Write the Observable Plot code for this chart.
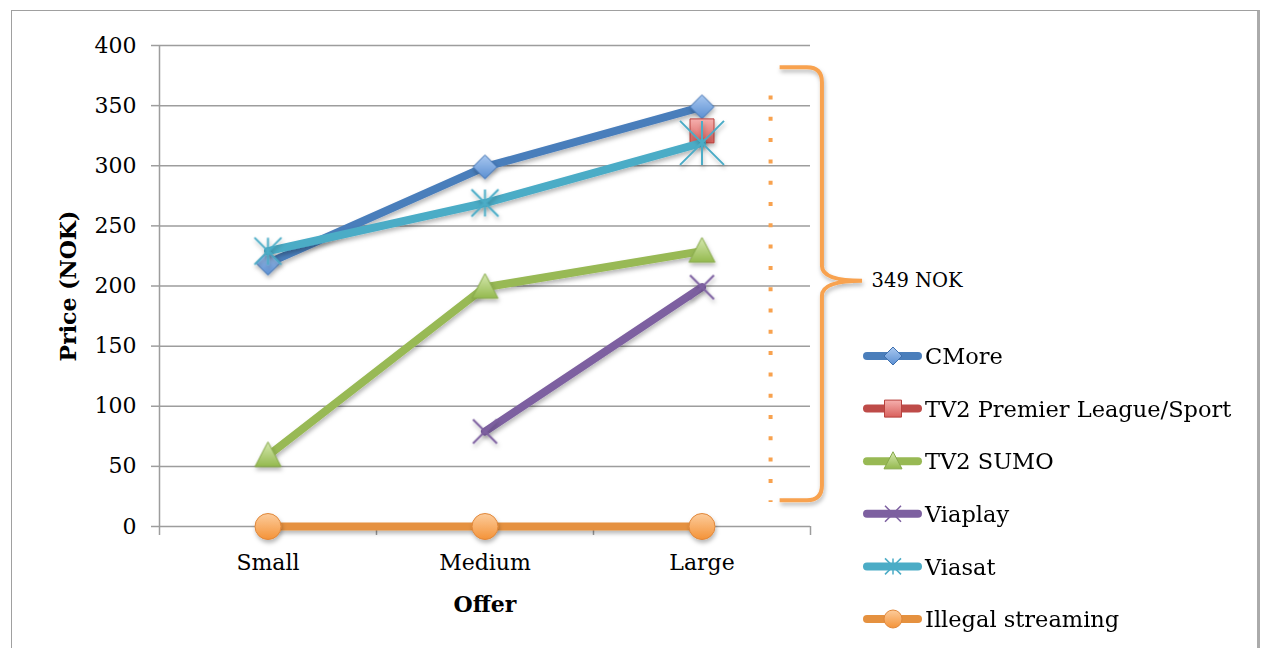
<!DOCTYPE html>
<html>
<head>
<meta charset="utf-8">
<script src="https://cdn.jsdelivr.net/npm/d3@7"></script>
<script src="https://cdn.jsdelivr.net/npm/@observablehq/plot@0.6"></script>
<style>
  html, body { margin: 0; padding: 0; background: #fff; overflow: hidden; }
  #page { position: relative; width: 1262px; height: 648px; overflow: hidden; font-family: "DejaVu Serif", serif; }
  #frame { position: absolute; left: 11px; top: 10px; width: 1245px; height: 700px;
           border-left: 1px solid #a0a0a0; border-top: 1px solid #a0a0a0; border-right: 3px solid #ababab; }
  #chart, #legend { position: absolute; left: 0; top: 0; }
  #legend { pointer-events: none; }
</style>
</head>
<body>
<svg width="0" height="0" style="position:absolute">
  <defs>
    <filter id="shadow" filterUnits="userSpaceOnUse" x="0" y="0" width="1262" height="648">
      <feDropShadow dx="1" dy="3" stdDeviation="2" flood-color="#000" flood-opacity="0.28"/>
    </filter>
    <linearGradient id="gBlue" x1="0" y1="0" x2="0" y2="1">
      <stop offset="0" stop-color="#a9c8f0"/><stop offset="1" stop-color="#5b8fd2"/>
    </linearGradient>
    <linearGradient id="gRed" x1="0" y1="0" x2="0" y2="1">
      <stop offset="0" stop-color="#f5b0ae"/><stop offset="1" stop-color="#d9605c"/>
    </linearGradient>
    <linearGradient id="gGreen" x1="0" y1="0" x2="0" y2="1">
      <stop offset="0" stop-color="#d6e9b0"/><stop offset="1" stop-color="#94b94e"/>
    </linearGradient>
    <linearGradient id="gOrange" x1="0" y1="0" x2="0" y2="1">
      <stop offset="0" stop-color="#fccc9c"/><stop offset="1" stop-color="#f49338"/>
    </linearGradient>
  </defs>
</svg>
<div id="page">
  <div id="frame"></div>
  <div id="chart"></div>
  <svg id="legend" width="1262" height="648"></svg>
</div>
<script>
// Offer sizes along the x axis and monthly prices (NOK) per provider
const offers = ["Small", "Medium", "Large"];
const seriesNames = ["CMore", "TV2 Premier League/Sport", "TV2 SUMO", "Viaplay", "Viasat", "Illegal streaming"];
const cmore    = [219, 299, 349];
const tv2Sport = [null, null, 329];
const tv2Sumo  = [59, 199, 229];
const viaplay  = [null, 79, 199];
const viasat   = [229, 269, 319];
const illegal  = [0, 0, 0];
const yTicks = [0, 50, 100, 150, 200, 250, 300, 350, 400];

// Brace annotation: spans the price range, pointing at the label
const annotationLabel = "349 NOK";
const braceRange = [21.5, 381.5];   // bottom and top of the brace (NOK)
const braceMid = 204;               // where the brace points
const dotRange = [20, 358];         // dotted guide line (NOK)
const dotOffer = 2.316;             // guide line position on the offer axis
const braceOffer = [2.36, 2.555, 2.74]; // ends, spine, tip on the offer axis

const seriesValues = [cmore, tv2Sport, tv2Sumo, viaplay, viasat, illegal];

// Marker shapes, drawn around the origin with half-width r
const sym = fn => ({draw(c, size) { fn(c, Math.sqrt(size / Math.PI)); }});
const diamond = sym((c, r) => { c.moveTo(0, -r); c.lineTo(r, 0); c.lineTo(0, r); c.lineTo(-r, 0); c.closePath(); });
const square = sym((c, r) => { c.moveTo(-r, -r); c.lineTo(r, -r); c.lineTo(r, r); c.lineTo(-r, r); c.closePath(); });
const triangle = sym((c, r) => { c.moveTo(0, -r * 1.05); c.lineTo(r, r * 0.85); c.lineTo(-r, r * 0.85); c.closePath(); });
const cross = sym((c, r) => { c.moveTo(-r, -r); c.lineTo(r, r); c.moveTo(-r, r); c.lineTo(r, -r); });
const star = sym((c, r) => { c.moveTo(-r, -r); c.lineTo(r, r); c.moveTo(-r, r); c.lineTo(r, -r); c.moveTo(0, -r); c.lineTo(0, r); });
const circle = sym((c, r) => { c.moveTo(r, 0); c.arc(0, 0, r, 0, 2 * Math.PI); });

const styles = [
  {line: "#4a7ebb", symbol: diamond,  fill: "url(#gBlue)",   stroke: "#3d6ead", sw: 1,   r: 12,   lr: 9},
  {line: "#be4b48", symbol: square,   fill: "url(#gRed)",    stroke: "#b8413d", sw: 1,   r: 12,   lr: 8.5},
  {line: "#98b954", symbol: triangle, fill: "url(#gGreen)",  stroke: "#86a84a", sw: 1,   r: 13,   lr: 9},
  {line: "#7d60a0", symbol: cross,    fill: "none",          stroke: "#7d60a0", sw: 2,   r: 12,   lr: 8},
  {line: "#4bacc6", symbol: star,     fill: "none",          stroke: "#4bacc6", sw: 2,   r: 13.5, lr: 8},
  {line: "#e5913f", symbol: circle,   fill: "url(#gOrange)", stroke: "#e0873a", sw: 1,   r: 13,   lr: 9}
];

const rows = seriesValues.map((vals, s) =>
  vals.map((v, i) => ({series: seriesNames[s], i, value: v})).filter(d => d.value != null));

const grid = "#9d9d9d";
const annotationColor = "#f8a24f";

const seriesMarks = rows.flatMap((data, s) => {
  const st = styles[s];
  const marks = [Plot.line(data, {x: "i", y: "value", stroke: st.line, strokeWidth: 8, strokeLinecap: "round", strokeLinejoin: "round"})];
  // Viasat's Large offer carries a larger marker
  const big = s === 4 ? data.filter(d => d.i === 2) : [];
  const normal = data.filter(d => !big.includes(d));
  marks.push(Plot.dot(normal, {x: "i", y: "value", symbol: st.symbol, r: st.r, fill: st.fill, stroke: st.stroke, strokeWidth: st.sw}));
  if (big.length) marks.push(Plot.dot(big, {x: "i", y: "value", symbol: st.symbol, r: 22, fill: st.fill, stroke: st.stroke, strokeWidth: st.sw}));
  return marks;
});

const chart = Plot.plot({
  width: 1262,
  height: 648,
  marginLeft: 159,
  marginRight: 452,
  marginTop: 45,
  marginBottom: 122,
  style: {fontFamily: '"DejaVu Serif", serif', fontSize: "22px", color: "#000", background: "none", overflow: "visible"},
  x: {type: "linear", domain: [-0.5, 2.5], label: null},
  y: {domain: [0, 400], label: null},
  marks: [
    Plot.ruleY(yTicks, {x1: -0.5, x2: 2.5, stroke: grid, strokeWidth: 1.5}),
    Plot.ruleX([-0.5], {y1: 0, y2: 400, stroke: grid, strokeWidth: 1.5}),
    Plot.axisY({ticks: yTicks, tickSize: 8, tickPadding: 15, stroke: grid, strokeWidth: 1.5, fill: "#000", label: null, fontSize: 22}),
    Plot.axisX({ticks: [-0.5, 0.5, 1.5, 2.5], tickSize: 9, tickFormat: () => "", stroke: grid, strokeWidth: 1.5, label: null}),
    Plot.axisX({ticks: [0, 1, 2], tickSize: 0, tickPadding: 28, tickFormat: i => offers[i], fill: "#000", label: null, fontSize: 22}),
    Plot.text(["Price (NOK)"], {text: d => d, frameAnchor: "left", dx: -91, rotate: -90, textAnchor: "middle", lineAnchor: "middle", fontWeight: "bold", fontSize: 22}),
    Plot.text(["Offer"], {text: d => d, frameAnchor: "bottom", dy: 78, textAnchor: "middle", lineAnchor: "middle", fontWeight: "bold", fontSize: 22}),
    Plot.ruleX([dotOffer], {y1: dotRange[1], y2: dotRange[0], stroke: annotationColor, strokeWidth: 4, strokeDasharray: "4,17.3"}),
    ...seriesMarks,
    Plot.text([annotationLabel], {text: d => d, x: braceOffer[2], y: braceMid, dx: 9, textAnchor: "start", fontSize: 19.5})
  ]
});
document.getElementById("chart").appendChild(chart);

// shadows under series lines and markers
chart.querySelectorAll('g[aria-label="line"], g[aria-label="dot"]').forEach(g => g.setAttribute("filter", "url(#shadow)"));

// curly brace drawn with the chart's own scales
const xs = chart.scale("x"), ys = chart.scale("y");
const px = xs.apply ? v => xs.apply(v) : d3.scaleLinear(xs.domain, xs.range);
const py = ys.apply ? v => ys.apply(v) : d3.scaleLinear(ys.domain, ys.range);
{
  const xe = px(braceOffer[0]), xs2 = px(braceOffer[1]), xt = px(braceOffer[2]);
  const yt = py(braceRange[1]), yb = py(braceRange[0]), ym = py(braceMid);
  const k = 15;
  const p = d3.path();
  p.moveTo(xe, yt); p.lineTo(xs2 - k, yt); p.quadraticCurveTo(xs2, yt, xs2, yt + k);
  p.lineTo(xs2, ym - k); p.quadraticCurveTo(xs2, ym, xt, ym);
  p.quadraticCurveTo(xs2, ym, xs2, ym + k);
  p.lineTo(xs2, yb - k); p.quadraticCurveTo(xs2, yb, xs2 - k, yb); p.lineTo(xe, yb);
  d3.select(chart).append("path").attr("d", p.toString()).attr("fill", "none")
    .attr("stroke", annotationColor).attr("stroke-width", 4).attr("filter", "url(#shadow)");
}

// legend
{
  const lg = d3.select("#legend");
  const y0 = 356, step = 52.6;
  seriesNames.forEach((name, s) => {
    const st = styles[s];
    const cy = y0 + s * step;
    const g = lg.append("g");
    g.append("line").attr("x1", 867).attr("x2", 918).attr("y1", cy).attr("y2", cy)
      .attr("stroke", st.line).attr("stroke-width", 8).attr("stroke-linecap", "round");
    g.append("path").attr("transform", `translate(893,${cy})`)
      .attr("d", d3.symbol(st.symbol, Math.PI * st.lr * st.lr)())
      .attr("fill", st.fill).attr("stroke", st.stroke).attr("stroke-width", st.sw === 2 ? 1.5 : 1);
    g.append("text").attr("x", 925).attr("y", cy).attr("dy", "0.36em")
      .attr("font-family", '"DejaVu Serif", serif').attr("font-size", 22.5).text(name);
  });
}
</script>
</body>
</html>
